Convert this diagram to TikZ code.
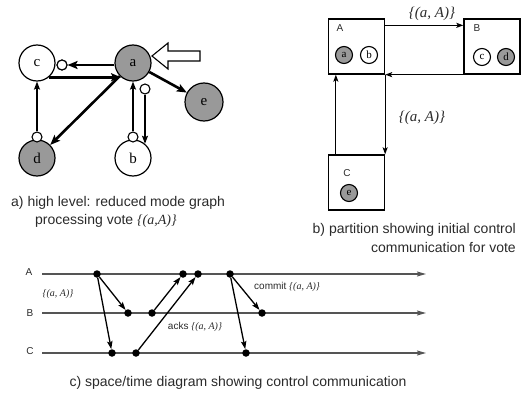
\documentclass[tikz,border=0pt]{standalone}
\usepackage{fontspec}
\setmainfont{Liberation Sans}
\newfontfamily\tms{Liberation Serif}
\usetikzlibrary{arrows.meta,calc}
\definecolor{fillg}{HTML}{999999}
\definecolor{txt}{HTML}{2a2a2a}
\definecolor{axis}{HTML}{555555}
\begin{document}
\begin{tikzpicture}[x=1pt,y=-1pt,
  big/.style={circle,draw,line width=1.2pt,minimum size=36pt,inner sep=0pt,font=\tms\fontsize{15}{15}\selectfont},
  gnode/.style={big,fill=fillg},
  smallo/.style={circle,draw,line width=1.1pt,minimum size=10pt,inner sep=0pt,fill=white},
  thk/.style={line width=2.6pt,-{Stealth[length=10pt,width=8pt,inset=2pt]}},
  thn/.style={line width=1.4pt,-{Stealth[length=8pt,width=6pt,inset=1.5pt]}},
  bthn/.style={line width=1.2pt,-{Stealth[length=7pt,width=5pt,inset=1.5pt]}},
  partbox/.style={draw,line width=1.3pt,minimum width=56pt,minimum height=55pt,inner sep=0pt},
  mini/.style={circle,draw,line width=1.1pt,minimum size=17pt,inner sep=0pt,fill=white,font=\tms\fontsize{11}{11}\selectfont},
  gmini/.style={mini,fill=fillg},
  lbl/.style={font=\fontsize{10}{10}\selectfont,text=txt,inner sep=0pt},
  captxt/.style={font=\fontsize{14}{14}\selectfont,text=txt,inner sep=0pt},
  mth/.style={font=\tms\itshape\fontsize{#1}{#1}\selectfont,text=txt,inner sep=0pt},
  evdot/.style={circle,fill=black,minimum size=7.5pt,inner sep=0pt},
  tline/.style={draw=axis,line width=1.3pt,-{Stealth[length=9pt,width=5pt,inset=1.5pt]}},
  evarrow/.style={line width=1.3pt,-{Stealth[length=8pt,width=5.5pt,inset=1.5pt]}}
]
\useasboundingbox (0,0) rectangle (530,396);

% ---------- part a ----------
\node[big] (c) at (37,63) {c};
\node[gnode] (a) at (133,63) {a};
\node[gnode,minimum size=38pt] (e) at (204,102) {e};
\node[gnode] (d) at (37,158) {d};
\node[big] (b) at (133,158) {b};

\node[smallo] (co) at (62,65) {};
\draw[thk] (a.west |- co) -- (co.east);
\draw[thk] (c.-50) -- (a.-130);
\draw[thk] (a) -- (e);
\draw[thk] (a) -- (d);

\node[smallo] (co2) at (62,65) {};
\node[smallo] (do) at (37,137) {};
\node[smallo] (bo) at (133,137) {};
\node[smallo] (ao) at (145,89) {};

\draw[thn] (do) -- (c);
\draw[thn] (bo) -- (a);
\draw[thn] (ao.south) -- (ao.south |- b.50);

\draw[line width=1.1pt,fill=white] (152,56) -- (168,43) -- (168,51) -- (200,51) -- (200,61) -- (168,61) -- (168,69) -- cycle;

\node[captxt,anchor=west] (capa1) at (11,203) {a) high level: reduced mode graph};
\node[captxt,anchor=west] (capa2) at (35,221) {processing vote {\tms\itshape\{(a,A)\}}};

% ---------- part b ----------
\node[partbox] (A) at (356.5,46.5) {};
\node[partbox] (B) at (492,46.5) {};
\node[partbox] (C) at (356.5,182.5) {};
\node[lbl] (lA) at (340,28) {A};
\node[lbl] (lB) at (477,28) {B};
\node[lbl] (lC) at (347,173) {C};
\node[gmini] (pa) at (344,55) {a};
\node[mini] (pb) at (369,55) {b};
\node[mini] (pc) at (482,57) {c};
\node[gmini] (pd) at (506,57) {d};
\node[gmini] (pe) at (349,193) {e};

\draw[bthn] ($(A.north east)+(0,7)$) -- ($(B.north west)+(0,7)$);
\draw[bthn] (B.south west) -- (A.south east);
\draw[bthn] (A.south east) -- (C.north east);
\draw[bthn] ($(C.north west)+(8,0)$) -- ($(A.south west)+(8,0)$);
\node[mth=15] (m1) at (432,14) {\{(a, A)\}};
\node[mth=15] (m2) at (422,118) {\{(a, A)\}};

\node[captxt,anchor=east] (capb1) at (516,230) {b) partition showing initial control};
\node[captxt,anchor=east] (capb2) at (516,247) {communication for vote};

% ---------- part c ----------
\coordinate (As) at (42,274); \coordinate (Ae) at (426,274);
\coordinate (Bs) at (42,313); \coordinate (Be) at (426,313);
\coordinate (Cs) at (42,353); \coordinate (Ce) at (426,353);
\draw[tline] (As) -- (Ae);
\draw[tline] (Bs) -- (Be);
\draw[tline] (Cs) -- (Ce);
\node[lbl] (tA) at (29,272) {A};
\node[lbl] (tB) at (30,313) {B};
\node[lbl] (tC) at (30,351) {C};

\node[evdot] (A1) at (97,274) {};
\node[evdot] (A2) at (183,274) {};
\node[evdot] (A3) at (198,274) {};
\node[evdot] (A4) at (230,274) {};
\node[evdot] (B1) at (128,313) {};
\node[evdot] (B2) at (152,313) {};
\node[evdot] (B3) at (262,313) {};
\node[evdot] (C1) at (112,353) {};
\node[evdot] (C2) at (136,353) {};
\node[evdot] (C3) at (246,353) {};

\draw[evarrow] (A1) -- (B1);
\draw[evarrow] (A1) -- (C1);
\draw[evarrow] (B2) -- (A2);
\draw[evarrow] (C2) -- (A3);
\draw[evarrow] (A4) -- (B3);
\draw[evarrow] (A4) -- (C3);

\node[mth=10] (q1) at (58,294) {\{(a, A)\}};
\node[lbl,anchor=west] (q2) at (254,287) {commit {\tms\itshape\{(a, A)\}}};
\node[lbl] (q3) at (195,327) {acks {\tms\itshape\{(a, A)\}}};

\node[captxt] (capc) at (238,383) {c) space/time diagram showing control communication};
\end{tikzpicture}
\end{document}
